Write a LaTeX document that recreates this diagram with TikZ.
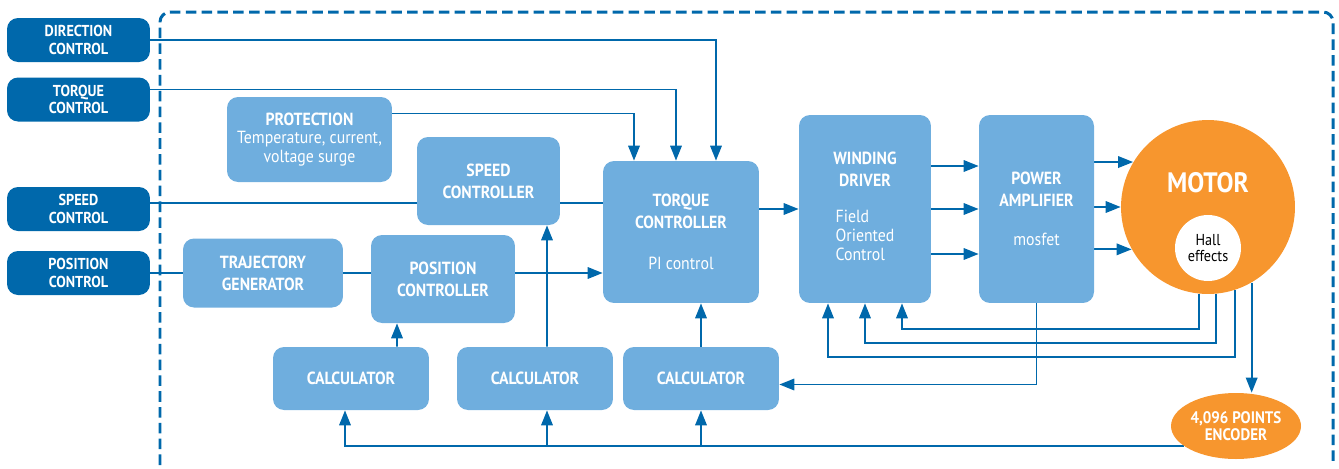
\documentclass[tikz,border=0pt]{standalone}
\usepackage{fontspec}
\setmainfont{PT Sans}[FakeStretch=0.9]
\usetikzlibrary{arrows.meta, shapes.geometric, positioning, backgrounds}

\definecolor{ctrlblue}{HTML}{0068AB}
\definecolor{boxblue}{HTML}{6FAEDE}
\definecolor{motororange}{HTML}{F7962E}

\begin{document}
\begin{tikzpicture}[
  x=0.02cm, y=-0.02cm,
  every node/.style={align=center, text=white, inner sep=0pt},
  ctrl/.style={rectangle, rounded corners=0.22cm, fill=ctrlblue,
    minimum width=2.86cm, minimum height=0.88cm,
    font=\bfseries\fontsize{9}{9.8}\selectfont},
  block/.style={rectangle, rounded corners=0.22cm, fill=boxblue,
    font=\bfseries\fontsize{10}{12.5}\selectfont},
  calcbox/.style={block, minimum width=3.12cm, minimum height=1.26cm},
  wire/.style={draw=ctrlblue, line width=1.1pt},
  arrow/.style={wire, -{Triangle[length=8.5pt, width=6.5pt]}}
]
\useasboundingbox (0,0) rectangle (1339,468);

% command inputs
\node (dir) [ctrl] at (78.5,40) {DIRECTION\\CONTROL};
\node (trq) [ctrl] at (78.5,99.5) {TORQUE\\CONTROL};
\node (spd) [ctrl] at (78.5,209) {SPEED\\CONTROL};
\node (pos) [ctrl] at (78.5,273) {POSITION\\CONTROL};

% control loop blocks
\node (prot) [block, minimum width=3.3cm, minimum height=1.7cm,
  font=\bfseries\fontsize{10}{10.5}\selectfont] at (309.5,139.5)
  {PROTECTION\\\mdseries Temperature, current,\\\mdseries voltage surge};
\node (spdctl) [block, minimum width=2.86cm, minimum height=1.76cm] at (488.5,181) {SPEED\\CONTROLLER};
\node (traj) [block, minimum width=3.2cm, minimum height=1.38cm] at (263,273) {TRAJECTORY\\GENERATOR};
\node (posctl) [block, minimum width=2.88cm, minimum height=1.76cm] at (443,279) {POSITION\\CONTROLLER};
\node (tqc) [block, minimum width=3.12cm, minimum height=2.84cm] at (681,232)
  {TORQUE\\CONTROLLER\\[11pt]\mdseries PI control};
\node (wind) [block, minimum width=2.64cm, minimum height=3.76cm] at (865,209)
  {WINDING\\DRIVER\\[8pt]\mdseries\def\arraystretch{0.87}\begin{tabular}[t]{@{}l@{}}Field\\Oriented\\Control\end{tabular}};
\node (pwr) [block, minimum width=2.3cm, minimum height=3.76cm] at (1036.5,209)
  {POWER\\AMPLIFIER\\[10pt]\mdseries mosfet};

\node (calcA) [calcbox] at (351,378.5) {CALCULATOR};
\node (calcB) [calcbox] at (535,378.5) {CALCULATOR};
\node (calcC) [calcbox] at (701,378.5) {CALCULATOR};

% motor and sensors
\node (motor) [circle, fill=motororange, minimum size=3.48cm] at (1208,207) {};
\node (motortxt) [font=\bfseries\fontsize{16}{18}\selectfont] at ([yshift=0.48cm]motor.center) {MOTOR};
\node (hall) [circle, fill=white, minimum size=1.32cm, text=black,
  font=\fontsize{9}{9}\selectfont] at ([yshift=-0.82cm]motor.center) {Hall\\effects};
\node (enc) [ellipse, fill=motororange, minimum width=2.6cm, minimum height=1.32cm,
  font=\bfseries\fontsize{9.5}{10}\selectfont] at (1236,426) {4,096 POINTS\\ENCODER};

% drive boundary
\draw[ctrlblue, line width=1.7pt, dash pattern=on 6pt off 3pt, rounded corners=0.2cm]
  (160,465) -- (160,12) -- (1333,12) -- (1333,465);

\begin{scope}[on background layer]
% inputs into the torque controller
\draw[arrow] (dir.east) -| ([xshift=0.7cm]tqc.north);
\draw[arrow] ([yshift=0.2cm]trq.east) -| ([xshift=-0.1cm]tqc.north);
\draw[arrow] ([yshift=0.52cm]prot.east) -| ([xshift=-0.94cm]tqc.north);

\coordinate (spdline) at ([yshift=0.12cm]spd.east);
\draw[wire] (spdline) -- (spdline -| spdctl.west);
\draw[wire] (spdline -| spdctl.east) -- (spdline -| tqc.west);

\draw[wire] (pos.east) -- (traj.west);
\draw[wire] (traj.east) -- (traj.east -| posctl.west);
\draw[arrow] (posctl.east |- traj.east) -- (tqc.west |- traj.east);

% forward path
\draw[arrow] (tqc.east |- wind.west) -- (wind.west);
\foreach \dy in {0.86,0,-0.9}
  \draw[arrow] ([yshift=\dy cm]wind.east) -- ([yshift=\dy cm]pwr.east -| pwr.west);
\foreach \a in {149,180,209}
  \draw[arrow] (pwr.east |- motor.\a) -- (motor.\a);

% feedback from the motor
\draw[arrow] (motor.264) -- ++(0,35) -| ([xshift=0.74cm]wind.south);
\draw[arrow] (motor.275) -- ++(0,49) -| (wind.south);
\draw[arrow] (motor.288) -- ++(0,67) -| ([xshift=-0.74cm]wind.south);
\draw[arrow] (motor.300) -- (motor.300 |- enc.north);
\draw[arrow] (pwr.south) |- ([yshift=-0.12cm]calcC.east);

% encoder bus to the calculators
\draw[arrow] (enc.201) -| ([xshift=-0.12cm]calcA.south);
\draw[arrow] (enc.201) -| ([xshift=0.24cm]calcB.south);
\draw[arrow] (enc.201) -| (calcC.south);

\draw[arrow] ([xshift=0.92cm]calcA.north) -- ([xshift=-0.92cm]posctl.south);
\draw[arrow] ([xshift=0.24cm]calcB.north) -- ([xshift=1.17cm]spdctl.south);
\draw[arrow] (calcC.north) -- (calcC.north |- tqc.south);
\end{scope}

\end{tikzpicture}
\end{document}
